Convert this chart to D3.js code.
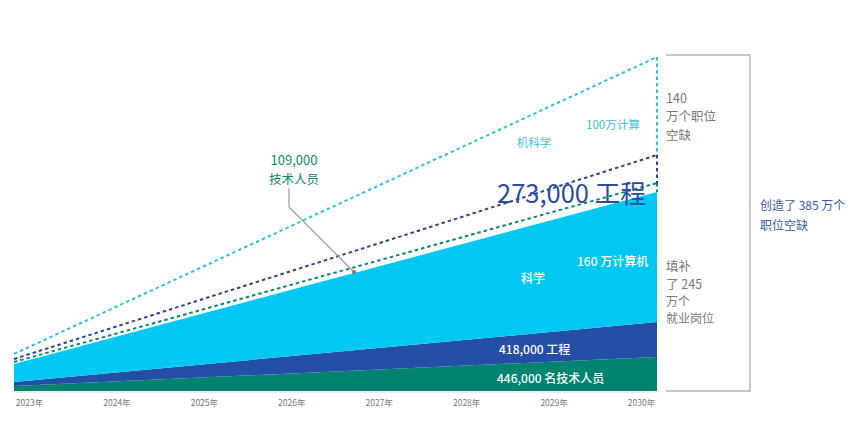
<!DOCTYPE html>
<html lang="zh">
<head>
<meta charset="utf-8">
<script src="https://d3js.org/d3.v7.min.js"></script>
<style>
  body { margin: 0; background: #fff; }
  svg { display: block; font-family: "Noto Sans CJK SC", "Noto Sans", sans-serif; }
</style>
</head>
<body>
<svg id="chart" width="865" height="429"></svg>
<script>
// years shown on the axis
var yearLabels = [2023, 2024, 2025, 2026, 2027, 2028, 2029, 2030];
// the areas are straight ramps, read at both ends (thousand jobs, as drawn)
var endYears = [2023, 2030];
var techStaff = [58, 392];      // green, 446,000 技术人员
var engineering = [46, 403];    // dark blue, 418,000 工程
var compSci = [207, 1499];      // cyan, 160 万计算机科学
// dotted lines: cumulative demand
var techDemand = [334, 2398];
var engDemand = [369, 2720];
var csDemand = [427, 3850];

var svg = d3.select("#chart");

var x = d3.scaleLinear().domain([2023, 2030]).range([14, 657]);
var y = d3.scaleLinear().domain([0, 3850]).range([391, 57]);
var xLab = d3.scalePoint().domain(yearLabels).range([29, 641]);

var rows = endYears.map(function(yr, i) {
  return { year: yr, tech: techStaff[i], eng: engineering[i], cs: compSci[i] };
});
var stack = d3.stack().keys(["tech", "eng", "cs"]);
var layers = stack(rows);
var fills = { tech: "#008470", eng: "#2350a6", cs: "#00c8f2" };

var area = d3.area()
  .x(function(d) { return x(d.data.year); })
  .y0(function(d) { return y(d[0]); })
  .y1(function(d) { return y(d[1]); });

svg.selectAll("path.layer")
  .data(layers)
  .enter().append("path")
  .attr("class", "layer")
  .attr("d", area)
  .attr("fill", function(d) { return fills[d.key]; });

// faint baseline
svg.append("line")
  .attr("x1", x(2023)).attr("x2", x(2030))
  .attr("y1", y(0) + 1).attr("y2", y(0) + 1)
  .attr("stroke", "#e3e6ea").attr("stroke-width", 1.5);

// dotted demand lines
var demand = [
  { vals: csDemand, color: "#33c0dc" },
  { vals: engDemand, color: "#2e4690" },
  { vals: techDemand, color: "#0b8a6e" }
];
var line = d3.line()
  .x(function(d, i) { return x(endYears[i]); })
  .y(function(d) { return y(d); });

demand.forEach(function(s) {
  svg.append("path")
    .attr("d", line(s.vals))
    .attr("fill", "none")
    .attr("stroke", s.color)
    .attr("stroke-width", 2)
    .attr("stroke-dasharray", "3.5,3");
});

// vertical dotted segment at 2030
var tops = [csDemand[1], engDemand[1], techDemand[1], techStaff[1] + engineering[1] + compSci[1]];
demand.forEach(function(s, i) {
  svg.append("line")
    .attr("x1", x(2030)).attr("x2", x(2030))
    .attr("y1", y(tops[i])).attr("y2", y(tops[i + 1]))
    .attr("stroke", s.color)
    .attr("stroke-width", 2)
    .attr("stroke-dasharray", "3.5,3");
});

// axis
var axis = svg.append("g")
  .attr("transform", "translate(0," + (y(0) + 6) + ")")
  .call(d3.axisBottom(xLab).tickSize(0).tickFormat(function(d) { return d + "年"; }));
axis.select(".domain").remove();
axis.selectAll("text")
  .attr("fill", "#777")
  .style("font-size", "8.5px")
  .style("font-family", "'Noto Sans CJK SC', sans-serif");

// bracket on the right
svg.append("path")
  .attr("d", "M666,55H750V391H666")
  .attr("fill", "none")
  .attr("stroke", "#b8b8b8")
  .attr("stroke-width", 1.5);

// leader for 109,000
svg.append("path")
  .attr("d", "M289,188V207L354,272")
  .attr("fill", "none")
  .attr("stroke", "#999")
  .attr("stroke-width", 1.2);
svg.append("circle")
  .attr("cx", 354).attr("cy", 272).attr("r", 2)
  .attr("fill", "#777");

function label(txt, px, py, size, color, anchor, weight) {
  svg.append("text")
    .attr("x", px).attr("y", py)
    .attr("text-anchor", anchor || "start")
    .attr("fill", color)
    .style("font-size", size + "px")
    .style("font-weight", weight || 400)
    .text(txt);
}

label("109,000", 294, 165, 13, "#0b8a6e", "middle");
label("技术人员", 294, 184, 12.5, "#0b8a6e", "middle");

label("100万计算", 586, 129, 11.5, "#3cbde8");
label("机科学", 534, 147, 11.5, "#3cbde8", "middle");

label("273,000 工程", 497, 203, 25.5, "#2c4c9e");

label("140", 666, 103, 12.5, "#777");
label("万个职位", 666, 121, 12.5, "#777");
label("空缺", 666, 140, 12.5, "#777");

label("创造了 385 万个", 760, 210, 12, "#3a5aa8");
label("职位空缺", 760, 230, 12, "#3a5aa8");

label("填补", 666, 271, 12.5, "#777");
label("了 245", 666, 289, 12.5, "#777");
label("万个", 666, 306, 12, "#777");
label("就业岗位", 666, 323, 12, "#777");

label("160 万计算机", 577, 266, 12, "#fff", "start", 500);
label("科学", 533, 283, 12, "#fff", "middle", 500);
label("418,000 工程", 499, 354, 12, "#fff", "start", 500);
label("446,000 名技术人员", 497, 383, 12, "#fff", "start", 500);
</script>
</body>
</html>
